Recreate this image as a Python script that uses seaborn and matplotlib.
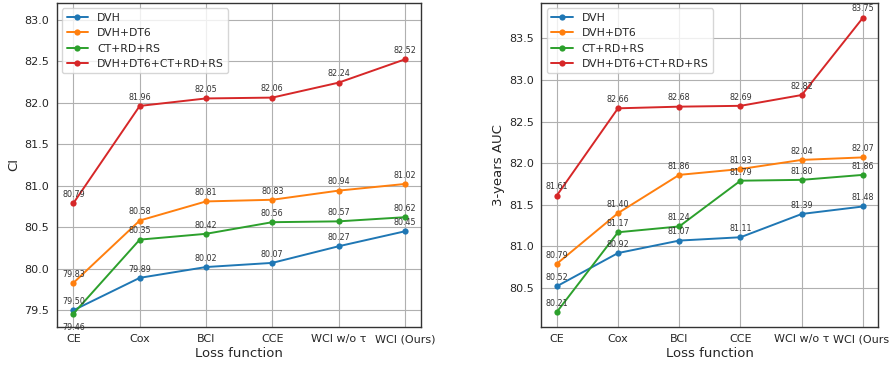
import matplotlib
matplotlib.use("Agg")
import matplotlib.pyplot as plt
import seaborn as sns
import pandas as pd

categories = ["CE", "Cox", "BCI", "CCE", "WCI w/o τ", "WCI (Ours)"]
series_names = ["DVH", "DVH+DT6", "CT+RD+RS", "DVH+DT6+CT+RD+RS"]

ci_dvh = [79.50, 79.89, 80.02, 80.07, 80.27, 80.45]
ci_dvh_dt6 = [79.83, 80.58, 80.81, 80.83, 80.94, 81.02]
ci_ct_rd_rs = [79.46, 80.35, 80.42, 80.56, 80.57, 80.62]
ci_all = [80.79, 81.96, 82.05, 82.06, 82.24, 82.52]

auc_dvh = [80.52, 80.92, 81.07, 81.11, 81.39, 81.48]
auc_dvh_dt6 = [80.79, 81.40, 81.86, 81.93, 82.04, 82.07]
auc_ct_rd_rs = [80.21, 81.17, 81.24, 81.79, 81.80, 81.86]
auc_all = [81.61, 82.66, 82.68, 82.69, 82.82, 83.75]

sns.set_style("whitegrid")
plt.rcParams["font.family"] = ["DejaVu Sans"]

palette = ["#1f77b4", "#ff7f0e", "#2ca02c", "#d62728"]


def make_df(series):
    rows = []
    for name, vals in zip(series_names, series):
        for i, (c, v) in enumerate(zip(categories, vals)):
            rows.append({"x": i, "cat": c, "value": v, "series": name})
    return pd.DataFrame(rows)


fig = plt.figure(figsize=(8.89, 3.66), dpi=100)
ax1 = fig.add_axes([0.064, 0.107, 0.410, 0.885])
ax2 = fig.add_axes([0.609, 0.107, 0.379, 0.885])

panels = [
    (ax1, [ci_dvh, ci_dvh_dt6, ci_ct_rd_rs, ci_all], "CI", (79.3, 83.2)),
    (ax2, [auc_dvh, auc_dvh_dt6, auc_ct_rd_rs, auc_all], "3-years AUC", None),
]

for ax, series, ylabel, ylim in panels:
    df = make_df(series)
    sns.lineplot(data=df, x="x", y="value", hue="series", palette=palette,
                 marker="o", markersize=4.5, markeredgewidth=0, linewidth=1.4,
                 ax=ax, hue_order=series_names)
    for name, vals in zip(series_names, series):
        for i, v in enumerate(vals):
            below = (ylabel == "CI" and name == "CT+RD+RS" and i == 0)
            ax.annotate(f"{v:.2f}", (i, v), textcoords="offset points",
                        xytext=(0, -7 if below else 3), ha="center",
                        va="bottom" if not below else "top",
                        fontsize=5.8, color="#333333")
    ax.set_xticks(range(len(categories)))
    ax.set_xticklabels(categories, fontsize=8)
    ax.tick_params(axis="y", labelsize=8)
    ax.tick_params(axis="both", length=3, color="#333333", direction="out", pad=2.5)
    ax.set_xlabel("Loss function", fontsize=9.5, labelpad=2)
    ax.set_ylabel(ylabel, fontsize=9.5, labelpad=3)
    ax.set_xlim(-0.25, 5.25)
    if ylim:
        ax.set_ylim(*ylim)
    ax.grid(True, color="#b0b0b0", linewidth=0.8)
    for s in ax.spines.values():
        s.set_color("#333333")
        s.set_linewidth(1.0)
    leg = ax.legend(loc="upper left", fontsize=7.8, frameon=True, title=None)
    leg.get_frame().set_edgecolor("#cccccc")

fig.savefig("out.png", dpi=100)
